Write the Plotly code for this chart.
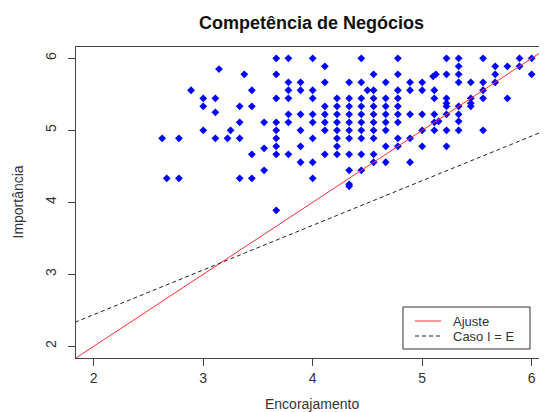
import plotly.graph_objects as go

titulo = "Competência de Negócios"
rotulo_x = "Encorajamento"
rotulo_y = "Importância"
ticks = [2, 3, 4, 5, 6]
legenda_nomes = ["Ajuste", "Caso I = E"]

# Importância levels (y) and the Encorajamento values (x) observed at each level
importancia_niveis = [6.0, 5.889, 5.85, 5.778, 5.75, 5.667, 5.556, 5.444, 5.375, 5.333,
                      5.25, 5.222, 5.125, 5.111, 5.0, 4.889, 4.778, 4.75, 4.667, 4.556,
                      4.444, 4.333, 4.25, 4.222, 3.889]
encorajamento_por_nivel = [
    [3.667, 3.778, 4.0, 4.444, 4.778, 5.222, 5.333, 5.556, 5.889, 6.0],
    [4.111, 5.333, 5.667, 5.778, 5.889],
    [3.144],
    [3.375, 3.667, 4.556, 4.778, 5.125, 5.222, 5.333, 5.667, 6.0],
    [5.10],
    [3.778, 3.889, 4.111, 4.333, 4.444, 4.667, 4.889, 5.0, 5.333, 5.444, 5.556, 5.667],
    [2.889, 3.444, 3.778, 3.889, 4.0, 4.5, 4.556, 4.778, 4.889, 5.0, 5.111, 5.556],
    [3.0, 3.111, 3.667, 3.778, 4.0, 4.222, 4.333, 4.444, 4.556, 4.667, 4.778, 5.111,
     5.222, 5.444, 5.556, 5.778],
    [5.222, 5.444],
    [3.0, 3.333, 3.444, 4.111, 4.222, 4.333, 4.444, 4.556, 4.667, 4.778, 5.222, 5.333, 5.444],
    [3.111],
    [3.778, 3.889, 4.0, 4.111, 4.222, 4.333, 4.444, 4.556, 4.667, 4.778, 4.889, 5.0,
     5.111, 5.222, 5.333],
    [5.15, 5.333],
    [3.333, 3.556, 3.667, 3.778, 4.0, 4.111, 4.222, 4.333, 4.444, 4.556, 4.667, 4.778, 5.111],
    [3.0, 3.25, 3.667, 3.889, 4.111, 4.222, 4.333, 4.444, 4.556, 4.667, 5.0, 5.111,
     5.222, 5.333, 5.556],
    [2.625, 2.778, 3.111, 3.222, 3.333, 3.667, 4.0, 4.222, 4.333, 4.444, 4.556, 4.778, 4.889],
    [3.667, 3.889, 4.222, 4.667, 4.778, 5.0, 5.222],
    [3.556],
    [3.444, 3.667, 3.778, 4.111, 4.222, 4.333, 4.444, 4.556],
    [3.889, 4.0, 4.556, 4.667, 4.889],
    [3.556, 4.333, 4.444],
    [2.667, 2.778, 3.333, 3.444, 4.0],
    [4.333],
    [4.333],
    [3.667],
]

# Lines: intercept, slope
ajuste_coef = (0.0, 1.0)
caso_ie_coef = (1.2, 0.62)

x_range = [1.838, 6.14]
y_range = [1.8375, 6.157]

enc = []
imp = []
for yv, xs in zip(importancia_niveis, encorajamento_por_nivel):
    for xv in xs:
        enc.append(xv)
        imp.append(yv)

line_x = [1.0, 7.0]
cor_ajuste = "#FF3030"
cor_caso = "#222222"
dash_caso = "4px,3px"

fig = go.Figure()
fig.add_trace(go.Scatter(
    x=enc, y=imp, mode="markers", showlegend=False,
    marker=dict(symbol="diamond", size=6, color="#0000FF", line=dict(width=0)),
))
fig.add_trace(go.Scatter(
    x=line_x, y=[ajuste_coef[0] + ajuste_coef[1] * v for v in line_x],
    mode="lines", name=legenda_nomes[0], showlegend=False,
    line=dict(color=cor_ajuste, width=1),
))
fig.add_trace(go.Scatter(
    x=line_x, y=[caso_ie_coef[0] + caso_ie_coef[1] * v for v in line_x],
    mode="lines", name=legenda_nomes[1], showlegend=False,
    line=dict(color=cor_caso, width=1, dash=dash_caso),
))

FONT = "Liberation Sans, Arial, sans-serif"
axis_common = dict(
    tickvals=ticks, ticks="outside", ticklen=7, tickcolor="#444444", tickwidth=1,
    showline=True, linecolor="#444444", linewidth=1, showgrid=False, zeroline=False,
    tickfont=dict(family=FONT, size=14, color="#333333"),
)

# page body has an 8px margin; plot area in page pixels: x 76..547, y 47..358
PL, PT, PW, PH = 76, 47, 471, 311


def px2paper_x(px):
    return (px - PL) / PW


def px2paper_y(py):
    return (PT + PH - py) / PH


# manual legend box (R style)
leg_x0, leg_x1, leg_y0, leg_y1 = 403, 530, 307, 349
shapes = [
    dict(type="rect", xref="paper", yref="paper",
         x0=px2paper_x(leg_x0), x1=px2paper_x(leg_x1),
         y0=px2paper_y(leg_y1), y1=px2paper_y(leg_y0),
         line=dict(color="#333333", width=1), fillcolor="white", layer="above"),
]
annotations = [
    dict(text=rotulo_x, xref="paper", yref="paper", x=0.5, y=px2paper_y(404),
         xanchor="center", yanchor="middle", showarrow=False,
         font=dict(family=FONT, size=14, color="#333333")),
    dict(text=rotulo_y, xref="paper", yref="paper", x=px2paper_x(17), y=0.5,
         xanchor="center", yanchor="middle", textangle=-90, showarrow=False,
         font=dict(family=FONT, size=14, color="#333333")),
]
for i, (nome, cor, dash) in enumerate(zip(legenda_nomes, [cor_ajuste, cor_caso], ["solid", dash_caso])):
    yy = 321 + 15 * i
    shapes.append(dict(type="line", xref="paper", yref="paper",
                       x0=px2paper_x(415), x1=px2paper_x(441),
                       y0=px2paper_y(yy), y1=px2paper_y(yy),
                       line=dict(color=cor, width=1, dash=dash), layer="above"))
    annotations.append(dict(text=nome, xref="paper", yref="paper",
                            x=px2paper_x(452), y=px2paper_y(yy),
                            xanchor="left", yanchor="middle", showarrow=False,
                            borderpad=0,
                            font=dict(family=FONT, size=13, color="#333333")))

W, H = 547 - 8, 412 - 8
fig.update_layout(
    width=W, height=H,
    margin=dict(l=PL - 8, r=0, t=PT - 8, b=H - (PT - 8) - PH),
    paper_bgcolor="white", plot_bgcolor="white",
    font=dict(family=FONT, size=14, color="#333333"),
    title=dict(text=titulo, x=0.5, xref="paper", xanchor="center",
               y=1 - (23 - 8) / H, yref="container", yanchor="middle",
               font=dict(family=FONT, size=18, color="#111111", weight="bold")),
    xaxis=dict(range=x_range, mirror=True, **axis_common),
    yaxis=dict(range=y_range, tickangle=-90, ticklabelstandoff=6, **axis_common),
    showlegend=False,
    shapes=shapes,
    annotations=annotations,
)

fig.write_html("out.html")
